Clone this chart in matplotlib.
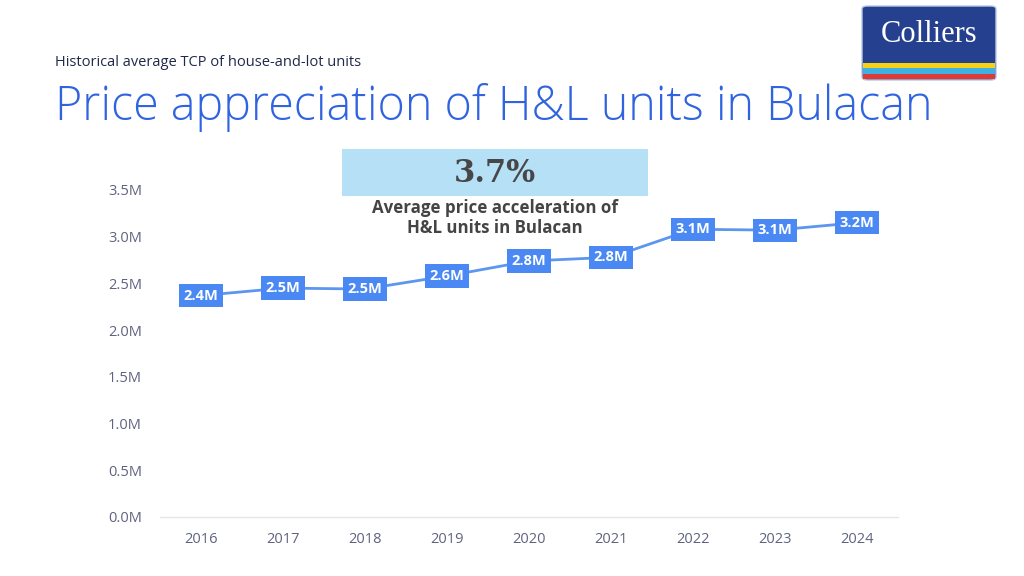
import matplotlib
matplotlib.use("Agg")
import matplotlib.pyplot as plt
from matplotlib.patches import FancyBboxPatch, Rectangle

years = ["2016", "2017", "2018", "2019", "2020", "2021", "2022", "2023", "2024"]
prices = [2.37, 2.45, 2.44, 2.58, 2.74, 2.78, 3.08, 3.07, 3.15]
labels = ["2.4M", "2.5M", "2.5M", "2.6M", "2.8M", "2.8M", "3.1M", "3.1M", "3.2M"]
yticks = [0.0, 0.5, 1.0, 1.5, 2.0, 2.5, 3.0, 3.5]
ytick_labels = ["0.0M", "0.5M", "1.0M", "1.5M", "2.0M", "2.5M", "3.0M", "3.5M"]

plt.rcParams['font.family'] = ['Open Sans', 'DejaVu Sans']

fig = plt.figure(figsize=(10.24, 5.76), dpi=100)
fig.patch.set_facecolor("white")
ax = fig.add_axes([160/1024, 1-517/576, 738/1024, (517-190)/576])

x = list(range(len(years)))
ax.plot(x, prices, color="#5b97ee", lw=2, zorder=2, clip_on=False)
for xi, p, lab in zip(x, prices, labels):
    ax.text(xi, p, lab, ha="center", va="center", color="white", fontsize=10.5,
            fontweight="bold", zorder=3,
            bbox=dict(boxstyle="square,pad=0.32", fc="#4a89f3", ec="none"))

ax.set_xlim(-0.5, 8.5)
ax.set_ylim(0, 3.5)
ax.set_xticks(x)
ax.set_xticklabels(years)
ax.set_yticks(yticks)
ax.set_yticklabels(ytick_labels)
ax.tick_params(axis="both", length=0, labelsize=10.5, colors="#5f6380")
ax.tick_params(axis="x", pad=11)
ax.tick_params(axis="y", pad=13)
for s in ["top", "right", "left"]:
    ax.spines[s].set_visible(False)
ax.spines["bottom"].set_color("#e6e6e6")
ax.spines["bottom"].set_linewidth(1)

# titles
fig.text(55/1024, 1-62/576, "Historical average TCP of house-and-lot units",
         fontsize=10.5, color="#1f2a4a", ha="left", va="center", fontweight="medium")
fig.text(55/1024, 1-108/576, "Price appreciation of H&L units in Bulacan",
         fontsize=33.6, color="#2f63e0", ha="left", va="center", fontweight="light")

# callout
fig.patches.append(Rectangle((342/1024, 1-196/576), 306/1024, 47/576,
                             transform=fig.transFigure, fc="#b5e0f6", ec="none"))
fig.text(495/1024, 1-173/576, "3.7%", fontsize=22, color="#474747",
         ha="center", va="center", family=["DejaVu Serif"], fontweight="bold")
fig.text(495/1024, 1-218/576, "Average price acceleration of\nH&L units in Bulacan",
         fontsize=12.2, color="#444444", ha="center", va="center",
         fontweight="bold", linespacing=1.1)

# logo
fig.patches.append(FancyBboxPatch((862/1024, 1-80/576), 134/1024, 74/576,
                                  boxstyle="round,pad=0,rounding_size=0.005",
                                  transform=fig.transFigure, fc="#25408f",
                                  ec="#b9c8e6", lw=1))
fig.patches.append(Rectangle((863/1024, 1-68/576), 132/1024, 5/576,
                             transform=fig.transFigure, fc="#f7d117", ec="none"))
fig.patches.append(Rectangle((863/1024, 1-74/576), 132/1024, 6/576,
                             transform=fig.transFigure, fc="#3fb0e3", ec="none"))
fig.patches.append(Rectangle((863/1024, 1-79/576), 132/1024, 5/576,
                             transform=fig.transFigure, fc="#e03a35", ec="none"))
fig.text(929/1024, 1-35/576, "Colliers", fontsize=22, color="white",
         ha="center", va="center", family=["Liberation Serif", "DejaVu Serif"])

fig.savefig("out.png", dpi=100, facecolor="white")
